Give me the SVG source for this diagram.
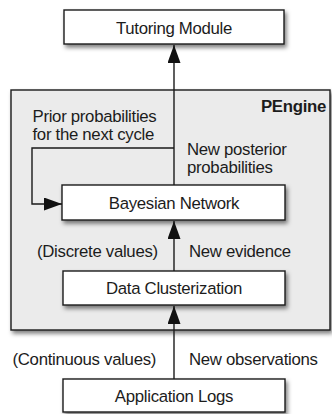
<svg xmlns="http://www.w3.org/2000/svg" width="332" height="414" viewBox="0 0 332 414">
  <style>
    .box { fill: #ffffff; stroke: #1a1a1a; stroke-width: 1.4; filter: url(#shadow); }
    .frame { fill: #ebebeb; stroke: #1a1a1a; stroke-width: 1.4; filter: url(#shadow); }
    .label { font-family: "Liberation Sans", Arial, sans-serif; font-size: 16.8px; letter-spacing: -0.3px; fill: #1c1c1c; }
    .center { text-anchor: middle; }
    .title { font-weight: bold; text-anchor: end; }
    .wire { fill: none; stroke: #1a1a1a; stroke-width: 1.4; }
  </style>
  <defs>
    <filter id="shadow" x="-10%" y="-20%" width="130%" height="160%">
      <feDropShadow dx="2" dy="3" stdDeviation="2" flood-color="#000" flood-opacity="0.5"/>
    </filter>
    <marker id="head" viewBox="0 0 18 13" refX="18" refY="6.5" markerWidth="18" markerHeight="13" markerUnits="userSpaceOnUse" orient="auto">
      <path d="M0,0 L18,6.5 L0,13 Z" fill="#111"/>
    </marker>
  </defs>

  <rect width="332" height="414" fill="#ffffff"/>

  <!-- PEngine container -->
  <g id="pengine">
    <rect class="frame" x="11" y="90" width="319" height="240"/>
    <text class="label title" x="326" y="112">PEngine</text>
  </g>

  <g id="tutoring-module">
    <rect class="box" x="64" y="10" width="220" height="34"/>
    <text class="label center" x="174" y="34">Tutoring Module</text>
  </g>

  <g id="bayesian-network">
    <rect class="box" x="62" y="185" width="223" height="35"/>
    <text class="label center" x="174" y="209">Bayesian Network</text>
  </g>

  <g id="data-clusterization">
    <rect class="box" x="63" y="271" width="222" height="34"/>
    <text class="label center" x="174" y="294">Data Clusterization</text>
  </g>

  <g id="application-logs">
    <rect class="box" x="63" y="379" width="222" height="33"/>
    <text class="label center" x="174" y="401.5">Application Logs</text>
  </g>

  <!-- connectors -->
  <g id="connectors">
    <line class="wire" x1="174" y1="185" x2="174" y2="45" marker-end="url(#head)"/>
    <polyline class="wire" points="174,148 32,148 32,204 62,204" marker-end="url(#head)"/>
    <line class="wire" x1="174" y1="271" x2="174" y2="221" marker-end="url(#head)"/>
    <line class="wire" x1="174" y1="379" x2="174" y2="306" marker-end="url(#head)"/>
  </g>

  <!-- connector labels -->
  <g id="connector-labels">
    <text class="label" x="32.5" y="122">Prior probabilities</text>
    <text class="label" x="32.5" y="139.5">for the next cycle</text>
    <text class="label" x="187" y="154.5">New posterior</text>
    <text class="label" x="187" y="172.5">probabilities</text>
    <text class="label" x="37" y="257">(Discrete values)</text>
    <text class="label" x="189" y="257">New evidence</text>
    <text class="label" x="12.5" y="365">(Continuous values)</text>
    <text class="label" x="189" y="365">New observations</text>
  </g>
</svg>
